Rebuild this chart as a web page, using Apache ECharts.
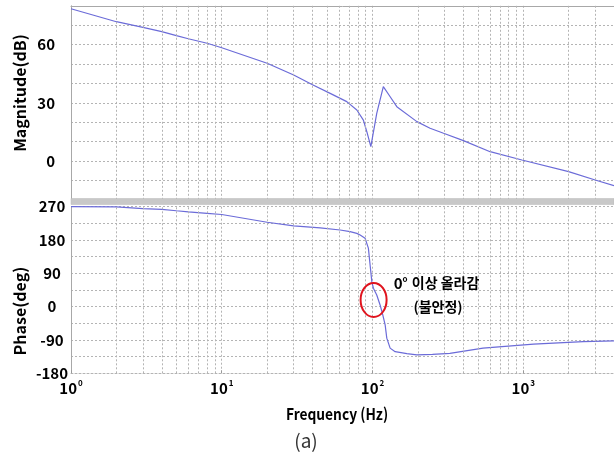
<!DOCTYPE html>
<html>
<head>
<meta charset="utf-8">
<script src="https://cdn.jsdelivr.net/npm/echarts@6/dist/echarts.min.js"></script>
<style>
  html, body { margin: 0; padding: 0; background: #ffffff; }
  #chart { width: 614px; height: 457px; }
</style>
</head>
<body>
<div id="chart"></div>
<script>
// Bode plot of the loop: magnitude (dB) and phase (deg) against frequency (Hz)
const magFreq = [1, 2, 3, 4, 5, 6, 8, 10, 20, 30, 40, 52, 67.5, 78.7, 87, 91.7, 97.5, 106.7, 118, 131, 145, 197, 241, 296, 401, 603, 980, 2000, 3000, 4000];
const magDb   = [78.5, 71.8, 68.9, 66.7, 64.6, 63, 60.7, 58.4, 50.4, 44.3, 39.3, 35, 30.6, 26.3, 21.1, 15.1, 7.4, 24.6, 38.3, 33.1, 28, 20.3, 16.9, 14.3, 10.5, 4.8, 0.5, -5.5, -9.8, -12.7];

const phaseFreq = [1, 2, 3, 4, 5, 6, 8, 10, 20, 30, 45, 61, 71, 78.7, 82.8, 89.3, 93.9, 96.4, 99, 101.4, 106.7, 112.3, 117, 121.3, 124.4, 130.9, 141.3, 169, 197, 250, 326, 541, 1170, 2500, 4000];
const phaseDeg  = [270, 269.5, 265, 263, 259, 256, 252, 249, 228, 218, 213, 207, 202.5, 198, 193.6, 184.7, 158, 112.6, 67.5, 49.7, 31.6, 4.6, -22.4, -49, -85, -112, -121.5, -127, -130, -129, -126, -112, -101, -94.5, -92.6];

// frequencies of the minor (2..9 per decade) grid lines
const minorFreqs = [2, 3, 4, 5, 6, 7, 8, 9, 20, 30, 40, 50, 60, 70, 80, 90, 200, 300, 400, 500, 600, 700, 800, 900, 2000, 3000];

const magTicks = [60, 30, 0];
const phaseTicks = [270, 180, 90, 0, -90, -180];

// annotation anchors, in data units of the phase plot
const noteLine1 = { text: '0', freq: 266, deg: 64 };
const noteLine2 = { text: '(불안정)', freq: 272, deg: 0 };
const ringCenter = { freq: 101.7, deg: 18 };

const FONT = '"Noto Sans CJK KR", "Noto Sans", sans-serif';
const CURVE = '#6b6bd8';
const GRID_LINE = { color: '#b4b4b4', width: 1, type: [2, 2] };

const chart = echarts.init(document.getElementById('chart'), null, { renderer: 'canvas' });

function pairs(xs, ys) { return xs.map((x, i) => [x, ys[i]]); }

const minorLines = {
  silent: true,
  symbol: 'none',
  animation: false,
  label: { show: false },
  lineStyle: GRID_LINE,
  data: minorFreqs.map(f => ({ xAxis: f }))
};

chart.setOption({
  animation: false,
  backgroundColor: '#ffffff',
  grid: [
    { left: 71, top: 5.8, width: 543, height: 194 },
    { left: 71, top: 206.7, width: 543, height: 166.6 }
  ],
  xAxis: [
    {
      type: 'log', logBase: 10, gridIndex: 0, min: 1, max: 4000, position: 'top',
      axisLine: { show: true, onZero: false, lineStyle: { color: '#a8a8a8', width: 1 } },
      axisTick: { show: false },
      axisLabel: { show: false },
      splitLine: { show: true, lineStyle: GRID_LINE }
    },
    {
      type: 'log', logBase: 10, gridIndex: 1, min: 1, max: 4000, position: 'bottom',
      axisLine: { show: true, onZero: false, lineStyle: GRID_LINE },
      axisTick: { show: true, inside: true, length: 3, lineStyle: { color: '#999' } },
      splitLine: { show: true, lineStyle: GRID_LINE },
      axisLabel: {
        show: true, margin: 6, showMaxLabel: false,
        formatter: v => '{b|10}{s|' + Math.round(Math.log10(v)) + '}',
        rich: {
          b: { fontFamily: FONT, fontWeight: 'bold', fontSize: 15, color: '#000' },
          s: { fontFamily: FONT, fontWeight: 'bold', fontSize: 8, color: '#000', padding: [0, 0, 9, 1] }
        }
      }
    }
  ],
  yAxis: [
    {
      type: 'value', gridIndex: 0, min: -20, max: 80, interval: 10,
      axisLine: { show: true, lineStyle: { color: '#a8a8a8', width: 1 } },
      axisTick: { show: false },
      splitLine: { show: true, lineStyle: GRID_LINE },
      axisLabel: {
        margin: 16, align: 'right',
        fontFamily: FONT, fontWeight: 'bold', fontSize: 15, color: '#000',
        formatter: v => magTicks.includes(v) ? String(v) : ''
      }
    },
    {
      type: 'value', gridIndex: 1, min: -180, max: 270, interval: 45,
      axisLine: { show: true, lineStyle: { color: '#a8a8a8', width: 1 } },
      axisTick: { show: false },
      splitLine: { show: true, lineStyle: GRID_LINE },
      axisLabel: {
        margin: 19, align: 'center',
        fontFamily: FONT, fontWeight: 'bold', fontSize: 15, color: '#000',
        formatter: v => phaseTicks.includes(v) ? String(v) : ''
      }
    }
  ],
  series: [
    {
      name: 'Magnitude', type: 'line', xAxisIndex: 0, yAxisIndex: 0,
      data: pairs(magFreq, magDb),
      showSymbol: false, symbol: 'none',
      lineStyle: { color: CURVE, width: 1.2 },
      markLine: minorLines,
      z: 3
    },
    {
      name: 'Phase', type: 'line', xAxisIndex: 1, yAxisIndex: 1,
      data: pairs(phaseFreq, phaseDeg),
      showSymbol: false, symbol: 'none',
      lineStyle: { color: CURVE, width: 1.2 },
      markLine: minorLines,
      z: 3
    }
  ]
});

// decorations placed from the axes' own coordinate system
const toPx = (f, d) => chart.convertToPixel({ gridIndex: 1 }, [f, d]);
const p1 = toPx(noteLine1.freq, noteLine1.deg);
const p2 = toPx(noteLine2.freq, noteLine2.deg);
const pr = toPx(ringCenter.freq, ringCenter.deg);

chart.setOption({
  graphic: [
    // separator band between the two plots
    { type: 'rect', z: 10, shape: { x: 71, y: 198.5, width: 543, height: 6 },
      style: { fill: '#c8c8c8', stroke: '#b8b8b8', lineWidth: 0.5 } },
    { type: 'text', x: 20, y: 93, rotation: Math.PI / 2,
      style: { text: 'Magnitude(dB)', align: 'center', verticalAlign: 'middle',
        font: 'bold 16px ' + FONT, fill: '#000' } },
    { type: 'text', x: 20, y: 311, rotation: Math.PI / 2,
      style: { text: 'Phase(deg)', align: 'center', verticalAlign: 'middle',
        font: 'bold 16px ' + FONT, fill: '#000' } },
    { type: 'text', x: 337, y: 414, scaleX: 0.86,
      style: { text: 'Frequency (Hz)', align: 'center', verticalAlign: 'middle',
        font: 'bold 16px ' + FONT, fill: '#000' } },
    { type: 'text', x: 306, y: 441,
      style: { text: '(a)', align: 'center', verticalAlign: 'middle',
        font: '19px ' + FONT, fill: '#333' } },
    { type: 'text', x: p1[0], y: p1[1], z: 12,
      style: {
        text: '{n|' + noteLine1.text + '}{o|o}{k| 이상 올라감}',
        align: 'center', verticalAlign: 'middle',
        rich: {
          n: { font: 'bold 15px ' + FONT, fill: '#000' },
          o: { font: 'bold 8px ' + FONT, fill: '#000', padding: [0, 1, 9, 0] },
          k: { font: 'bold 14px ' + FONT, fill: '#000' }
        }
      } },
    { type: 'text', x: p2[0], y: p2[1], z: 12,
      style: { text: noteLine2.text, align: 'center', verticalAlign: 'middle',
        font: 'bold 14px ' + FONT, fill: '#000' } },
    { type: 'ellipse', z: 12, shape: { cx: pr[0], cy: pr[1], rx: 13, ry: 17 },
      style: { fill: 'none', stroke: '#e0141e', lineWidth: 2 } }
  ]
});
</script>
</body>
</html>
